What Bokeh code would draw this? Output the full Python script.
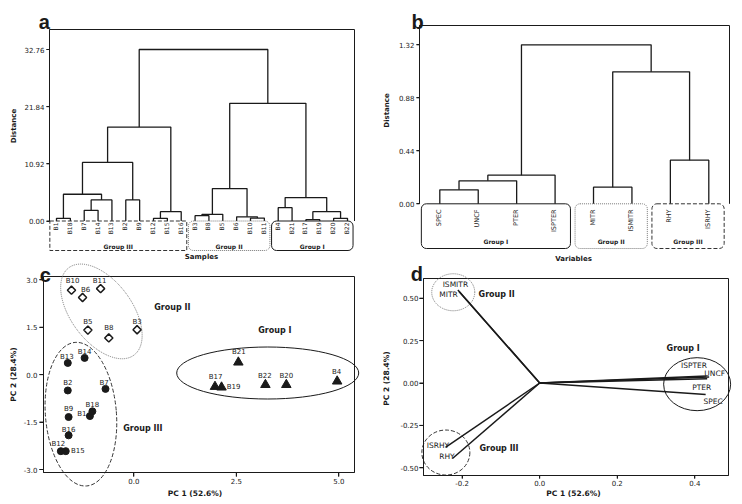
import math
from bokeh.plotting import figure
from bokeh.layouts import row, column
from bokeh.models import FixedTicker, PrintfTickFormatter, Range1d
from bokeh.embed import file_html
from bokeh.resources import INLINE
from bokeh.core.properties import value

FONT = "DejaVu Sans"
LETTER_FONT = "Liberation Sans"
INK = "#1a1a1a"

# ---------------- data ----------------
# (a) cluster analysis of samples
sample_leaves = ["B1", "B18", "B7", "B14", "B13", "B2", "B9", "B12", "B15", "B16",
                 "B3", "B8", "B5", "B6", "B10", "B11",
                 "B4", "B21", "B17", "B19", "B20", "B22"]
sample_merges = [  # (left, right, distance); cN = N-th merge
    ("B1", "B18", 0.51), ("B7", "B14", 2.04), ("c2", "B13", 4.02), ("c1", "c3", 5.11),
    ("B2", "B9", 4.02), ("c4", "c5", 11.18), ("B12", "B15", 0.51), ("c7", "B16", 1.79),
    ("c6", "c8", 17.94), ("B3", "B8", 1.02), ("c10", "B5", 1.28), ("B10", "B11", 0.55),
    ("B6", "c12", 0.80), ("c11", "c13", 6.19), ("B4", "B21", 2.55), ("B17", "B19", 0.26),
    ("B20", "B22", 0.51), ("c16", "c17", 1.79), ("c15", "c18", 4.47), ("c14", "c19", 22.48),
    ("c9", "c20", 32.76),
]
sample_groups = [("Group III", "B1", "B16"), ("Group II", "B3", "B11"), ("Group I", "B4", "B22")]
ticks_a = [0.0, 10.92, 21.84, 32.76]

# (b) cluster analysis of variables
variable_leaves = ["SPEC", "UNCF", "PTER", "ISPTER", "MITR", "ISMITR", "RHY", "ISRHY"]
variable_merges = [
    ("SPEC", "UNCF", 0.116), ("c1", "PTER", 0.191), ("c2", "ISPTER", 0.238),
    ("MITR", "ISMITR", 0.138), ("RHY", "ISRHY", 0.362), ("c4", "c5", 1.096), ("c3", "c6", 1.32),
]
variable_groups = [("Group I", "SPEC", "ISPTER"), ("Group II", "MITR", "ISMITR"), ("Group III", "RHY", "ISRHY")]
ticks_b = [0.0, 0.44, 0.88, 1.32]

# (c) PCA scores
g1_names = ["B4", "B17", "B19", "B20", "B21", "B22"]
g1_pc1 = [4.96, 1.98, 2.14, 3.72, 2.55, 3.21]
g1_pc2 = [-0.21, -0.38, -0.40, -0.32, 0.39, -0.32]
g2_names = ["B3", "B5", "B6", "B8", "B10", "B11"]
g2_pc1 = [0.08, -1.12, -1.25, -0.61, -1.52, -0.81]
g2_pc2 = [1.42, 1.41, 2.44, 1.16, 2.67, 2.72]
g3_names = ["B1", "B2", "B7", "B9", "B12", "B13", "B14", "B15", "B16", "B18"]
g3_pc1 = [-1.07, -1.61, -0.69, -1.59, -1.78, -1.61, -1.20, -1.66, -1.59, -1.01]
g3_pc2 = [-1.31, -0.50, -0.45, -1.34, -2.42, 0.37, 0.53, -2.42, -1.92, -1.16]
ticks_c_x = [0.0, 2.5, 5.0]
ticks_c_y = [-3.0, -1.5, 0.0, 1.5, 3.0]

# (d) PCA loadings
load_names = ["SPEC", "UNCF", "PTER", "ISPTER", "MITR", "ISMITR", "RHY", "ISRHY"]
load_pc1 = [0.428, 0.437, 0.432, 0.430, -0.208, -0.211, -0.225, -0.243]
load_pc2 = [-0.068, 0.035, 0.025, 0.042, 0.540, 0.548, -0.445, -0.380]
ticks_d_x = [-0.2, 0.0, 0.2, 0.4]
ticks_d_y = [-0.5, -0.25, 0.0, 0.25, 0.5]

# ---------------- styles / placement ----------------
score_label_offsets = {  # px (dx, dy), dy down
    "B10": (1, -9), "B11": (-1, -8), "B6": (3, -8), "B5": (0, -8), "B8": (0, -9.5), "B3": (0, -8),
    "B14": (0, -5.5), "B13": (-1, -6), "B2": (0, -7), "B7": (-1.5, -6), "B18": (0, -6),
    "B1": (-8, -2), "B9": (0, -8.5), "B16": (0, -5.5), "B12": (-2.5, -7.5), "B15": (12, 0),
    "B21": (0.5, -10.5), "B17": (0.5, -9.5), "B19": (12, 0), "B22": (-0.5, -8.5),
    "B20": (0, -8.5), "B4": (-0.5, -9.5),
}
load_label_offsets = {
    "ISPTER": (-12.5, -10.5), "UNCF": (5.5, -4), "PTER": (-5.5, 9), "SPEC": (7.5, 6.5),
    "ISMITR": (-2.5, -6), "MITR": (-10.5, 3.5), "ISRHY": (-7.5, -2), "RHY": (-5.5, -2),
}
group_style = {
    "Group I": dict(line_color=INK, line_dash="solid", line_width=1.0),
    "Group II": dict(line_color="#777777", line_dash="1 1", line_width=1.0),
    "Group III": dict(line_color="#333333", line_dash="4 2", line_width=1.0),
}


class Cal:
    """Figure placed on the page at (ox, oy) with size w x h; the whole figure is the
    plotting frame.  xcal / ycal: two (page px, data value) pairs read from the ticks.
    box: page px (L, R, T, B) of the drawn plot box."""
    def __init__(self, ox, oy, w, h, xcal, ycal, box):
        self.ox, self.oy, self.w, self.h = ox, oy, w, h
        (p1, v1), (p2, v2) = xcal
        self.kx, self.px1, self.vx1 = (v2 - v1) / (p2 - p1), p1, v1
        (q1, u1), (q2, u2) = ycal
        self.ky, self.py1, self.vy1 = (u2 - u1) / (q2 - q1), q1, u1
        self.L, self.R, self.T, self.B = box

    def x(self, px):
        return self.vx1 + (px - self.px1) * self.kx

    def y(self, py):
        return self.vy1 + (py - self.py1) * self.ky


CA = Cal(0, 0, 371, 262, ((56, 1), (347, 22)), ((220.5, 0.0), (49, 32.76)), (49, 354, 29, 220.5))
CB = Cal(371, 0, 371, 262, ((439.3, 1), (708.3, 8)), ((203.3, 0.0), (44.3, 1.32)), (419, 729, 25, 203.3))
CC = Cal(0, 262, 371, 242, ((133.3, 0.0), (338.3, 5.0)), ((374.15, 0.0), (279.3, 3.0)), (43, 354, 276, 472))
CD = Cal(371, 262, 371, 242, ((539.2, 0.0), (694.3, 0.4)), ((382.5, 0.0), (297.7, 0.5)), (423, 728, 278, 475))


def style_axis(ax, ticks, fmt, bounds, loc, tick_out=3, standoff=2):
    ax.fixed_location = loc
    ax.bounds = bounds
    ax.ticker = FixedTicker(ticks=ticks)
    ax.formatter = PrintfTickFormatter(format=fmt)
    ax.major_label_text_font = FONT
    ax.major_label_text_font_size = "7px"
    ax.major_label_text_color = INK
    ax.axis_line_color = INK
    ax.major_tick_line_color = INK
    ax.major_tick_line_width = 1
    ax.minor_tick_line_color = None
    ax.major_tick_in = 0
    ax.major_tick_out = tick_out
    ax.major_label_standoff = standoff


def tick_marks(p, c, ticks, side, length):
    """short outward tick marks on the left or bottom edge of the plot box"""
    if side == "left":
        x0 = [c.x(c.L)] * len(ticks)
        x1 = [c.x(c.L - length)] * len(ticks)
        p.segment(x0=x0, y0=ticks, x1=x1, y1=ticks, line_color=INK, line_width=1)
    else:
        y0 = [c.y(c.B)] * len(ticks)
        y1 = [c.y(c.B + length)] * len(ticks)
        p.segment(x0=ticks, y0=y0, x1=ticks, y1=y1, line_color=INK, line_width=1)


def make_fig(c, with_x_axis):
    kw = {}
    if not with_x_axis:
        kw["x_axis_location"] = None
    p = figure(width=c.w, height=c.h, output_backend="svg", toolbar_location=None,
               x_range=Range1d(c.x(c.ox), c.x(c.ox + c.w)),
               y_range=Range1d(c.y(c.oy + c.h), c.y(c.oy)),
               min_border=0, min_border_left=0, min_border_right=0,
               min_border_top=0, min_border_bottom=0, **kw)
    p.grid.visible = False
    p.outline_line_color = None
    p.background_fill_color = "white"
    p.border_fill_color = "white"
    return p


def txt(p, c, text, px, py, size, bold=True, font=FONT, angle=0.0, align="center", baseline="middle"):
    p.text(x=[c.x(px)], y=[c.y(py)], text=[text], angle=angle, text_align=align,
           text_baseline=baseline, text_font=value(font), text_font_size=size,
           text_font_style="bold" if bold else "normal", text_color=INK)


def plot_box(p, c, closed):
    left, right, top, bottom = c.x(c.L), c.x(c.R), c.y(c.T), c.y(c.B)
    if closed:
        xs, ys = [left, left, right, right, left], [bottom, top, top, bottom, bottom]
    else:
        xs, ys = [left, left, right, right], [bottom, top, top, bottom]
    p.line(xs, ys, line_color=INK, line_width=1.0)


def dendrogram(p, c, leaves, merges, groups, ticks, leaf_size, leaf_y_px, box_bottom_px,
               group_y_px, square_first_box):
    pos = {name: (i + 1, 0.0) for i, name in enumerate(leaves)}
    xs, ys = [], []
    for k, (a, b, h) in enumerate(merges):
        xa, ya = pos[a]
        xb, yb = pos[b]
        xs.append([xa, xa, xb, xb])
        ys.append([ya, h, h, yb])
        pos["c%d" % (k + 1)] = ((xa + xb) / 2.0, h)
    p.multi_line(xs, ys, line_color=INK, line_width=1.3)

    plot_box(p, c, False)
    style_axis(p.yaxis[0], ticks, "%.2f", (0.0, c.y(c.T)), c.x(c.L))
    tick_marks(p, c, ticks, "left", 3)

    p.text(x=list(range(1, len(leaves) + 1)), y=[c.y(leaf_y_px)] * len(leaves), text=leaves,
           angle=math.pi / 2, text_align="right", text_baseline="middle",
           text_font=value(FONT), text_font_size=leaf_size, text_color=INK, x_offset=-1)

    bottom = c.y(box_bottom_px)
    for i, (name, first, last) in enumerate(groups):
        i0 = leaves.index(first) + 1
        i1 = leaves.index(last) + 1
        left = max(i0 - 0.48, c.x(c.L) + 0.01)
        rgt = i1 + 0.40
        radius = 0 if (square_first_box and i == 0) else 5
        p.quad(left=left, right=rgt, top=0.0, bottom=bottom, fill_color=None,
               border_radius=radius, **group_style[name])
        p.text(x=[(left + rgt) / 2.0], y=[c.y(group_y_px)], text=[name], text_align="center",
               text_baseline="middle", text_font=value(FONT), text_font_size="6px",
               text_font_style="bold", text_color=INK)


# ---------------- (a) ----------------
pa = make_fig(CA, False)
dendrogram(pa, CA, sample_leaves, sample_merges, sample_groups, ticks_a, "6px", 222, 250, 246, True)
txt(pa, CA, "Samples", 201, 256, "7px")
txt(pa, CA, "Distance", 13.3, 125.5, "7px", angle=math.pi / 2)
txt(pa, CA, "a", 38.3, 21.7, "20px", font=LETTER_FONT, align="left", baseline="alphabetic")

# ---------------- (b) ----------------
pb = make_fig(CB, False)
dendrogram(pb, CB, variable_leaves, variable_merges, variable_groups, ticks_b, "6.5px", 209, 248, 241, False)
txt(pb, CB, "Variables", 573, 258, "7px")
txt(pb, CB, "Distance", 386, 110, "7px", angle=math.pi / 2)
txt(pb, CB, "b", 411, 21.7, "20px", font=LETTER_FONT, align="left", baseline="alphabetic")

# ---------------- (c) ----------------
pc = make_fig(CC, True)
plot_box(pc, CC, True)
style_axis(pc.xaxis[0], ticks_c_x, "%.1f", (CC.x(CC.L), CC.x(CC.R)), CC.y(CC.B), tick_out=4, standoff=1)
style_axis(pc.yaxis[0], ticks_c_y, "%.1f", (CC.y(CC.B), CC.y(CC.T)), CC.x(CC.L), tick_out=4, standoff=2)
tick_marks(pc, CC, ticks_c_x, "below", 4)
tick_marks(pc, CC, ticks_c_y, "left", 4)

pc.ellipse(x=[3.266], y=[0.052], width=182, height=52, angle=0.0, width_units="screen",
           height_units="screen", fill_color=None, **group_style["Group I"])
pc.ellipse(x=[-0.79], y=[2.00], width=109, height=61, angle=-0.93, width_units="screen",
           height_units="screen", fill_color=None, **group_style["Group II"])
pc.ellipse(x=[-1.29], y=[-1.25], width=71, height=144, angle=0.08, width_units="screen",
           height_units="screen", fill_color=None, **group_style["Group III"])

pc.scatter(g1_pc1, g1_pc2, marker="triangle", size=9.5, fill_color=INK, line_color=INK)
pc.scatter(g2_pc1, g2_pc2, marker="square", angle=math.pi / 4, size=5.8, fill_color="white",
           line_color=INK, line_width=1.5)
pc.scatter(g3_pc1, g3_pc2, marker="circle", size=7, fill_color=INK, line_color=INK)

all_names = g1_names + g2_names + g3_names
all_x = g1_pc1 + g2_pc1 + g3_pc1
all_y = g1_pc2 + g2_pc2 + g3_pc2
pc.text(x=all_x, y=all_y, text=all_names, text_align="center", text_baseline="middle",
        x_offset=[score_label_offsets[n][0] for n in all_names],
        y_offset=[score_label_offsets[n][1] for n in all_names],
        text_font=value(FONT), text_font_size="7px", text_color=INK)
pc.text(x=[0.94, 3.44, 0.22], y=[2.11, 1.40, -1.71], text=["Group II", "Group I", "Group III"],
        text_align="center", text_baseline="middle", text_font=value(FONT), text_font_size="8px",
        text_font_style="bold", text_color=INK)
txt(pc, CC, "PC 1 (52.6%)", 194.5, 492.5, "7.5px")
txt(pc, CC, "PC 2 (28.4%)", 13, 374, "7.5px", angle=math.pi / 2)
txt(pc, CC, "c", 39.3, 274, "20px", font=LETTER_FONT, align="left", baseline="alphabetic")

# ---------------- (d) ----------------
pd_ = make_fig(CD, True)
plot_box(pd_, CD, True)
style_axis(pd_.xaxis[0], ticks_d_x, "%.1f", (CD.x(CD.L), CD.x(CD.R)), CD.y(CD.B), tick_out=3, standoff=1)
style_axis(pd_.yaxis[0], ticks_d_y, "%.2f", (CD.y(CD.B), CD.y(CD.T)), CD.x(CD.L), tick_out=4, standoff=1)
tick_marks(pd_, CD, ticks_d_x, "below", 3)
tick_marks(pd_, CD, ticks_d_y, "left", 4)

pd_.ellipse(x=[0.406], y=[-0.007], width=67, height=53, width_units="screen", height_units="screen",
            fill_color=None, **group_style["Group I"])
pd_.ellipse(x=[-0.223], y=[0.535], width=43, height=37, width_units="screen", height_units="screen",
            fill_color=None, **group_style["Group II"])
pd_.ellipse(x=[-0.242], y=[-0.41], width=48, height=45, width_units="screen", height_units="screen",
            fill_color=None, **group_style["Group III"])

pd_.segment(x0=[0.0] * len(load_names), y0=[0.0] * len(load_names), x1=load_pc1, y1=load_pc2,
            line_color=INK, line_width=1.5)
pd_.text(x=load_pc1, y=load_pc2, text=load_names, text_align="center", text_baseline="middle",
         x_offset=[load_label_offsets[n][0] for n in load_names],
         y_offset=[load_label_offsets[n][1] for n in load_names],
         text_font=value(FONT), text_font_size="7.5px", text_color=INK)
pd_.text(x=[-0.111, 0.370, -0.105], y=[0.522, 0.202, -0.384], text=["Group II", "Group I", "Group III"],
         text_align="center", text_baseline="middle", text_font=value(FONT), text_font_size="8px",
         text_font_style="bold", text_color=INK)
txt(pd_, CD, "PC 1 (52.6%)", 573, 492.5, "7.5px")
txt(pd_, CD, "PC 2 (28.4%)", 386, 378, "7.5px", angle=math.pi / 2)
txt(pd_, CD, "d", 410.3, 273.3, "20px", font=LETTER_FONT, align="left", baseline="alphabetic")

layout = column(row(pa, pb), row(pc, pd_))
open("out.html", "w").write(file_html(layout, INLINE))
